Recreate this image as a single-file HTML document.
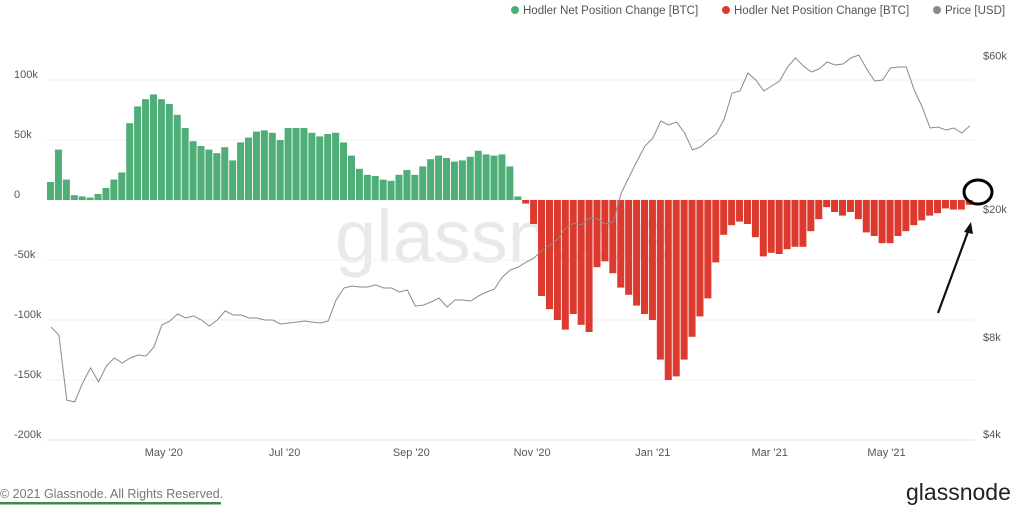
<!DOCTYPE html>
<html><head><meta charset="utf-8">
<style>
html,body{margin:0;padding:0;background:#fff;}
body{width:1024px;height:506px;overflow:hidden;position:relative;font-family:"Liberation Sans",sans-serif;}
svg{position:absolute;left:0;top:0;}
</style></head>
<body>
<svg id="chart" width="1024" height="506">
  <text x="335" y="262" font-size="74" fill="#e9e9e9" font-family="Liberation Sans, sans-serif">glassnode</text>
  <g id="grid"></g>
  <g id="yLeft"></g>
  <g id="yRight"></g>
  <g id="xAxis"></g>
  <g id="bars"></g>
  <path id="priceLine" fill="none" stroke="#8a8a8a" stroke-width="1"></path>
  <g>
    <g><circle cx="515" cy="10" r="4" fill="#4fae77"/><text x="523" y="14" font-size="11.5" fill="#555">Hodler Net Position Change [BTC]</text></g>
    <g><circle cx="726" cy="10" r="4" fill="#dd3a2f"/><text x="734" y="14" font-size="11.5" fill="#555">Hodler Net Position Change [BTC]</text></g>
    <g><circle cx="937" cy="10" r="4" fill="#8a8a8a"/><text x="945" y="14" font-size="11.5" fill="#555">Price [USD]</text></g>
  </g>
  <ellipse cx="978" cy="192" rx="14" ry="12" fill="none" stroke="#000" stroke-width="3"/>
  <g>
    <line x1="938" y1="313" x2="969" y2="229" stroke="#111" stroke-width="2.2"/>
    <polygon points="971,222 964,232 973,234" fill="#111"/>
  </g>
  <text x="0" y="498" font-size="12.5" fill="#777">© 2021 Glassnode. All Rights Reserved.</text>
  <rect x="0" y="502" width="221" height="2.5" fill="#3f8a4a"/>
  <text x="906" y="500" font-size="23" fill="#222">glassnode</text>
</svg>
<script>
const netValuesK = [15,42,17,4,3,2,5,10,17,23,64,78,84,88,84,80,71,60,49,45,42,39,44,33,48,52,57,58,56,50,60,60,60,56,53,55,56,48,37,26,21,20,17,16,21,25,21,28,34,37,35,32,33,36,41,38,37,38,28,3,-3,-20,-80,-91,-100,-108,-95,-104,-110,-56,-51,-61,-73,-79,-88,-95,-100,-133,-150,-147,-133,-114,-97,-82,-52,-29,-21,-18,-20,-31,-47,-44,-45,-41,-39,-39,-26,-16,-6,-10,-13,-10,-16,-27,-30,-36,-36,-30,-26,-21,-17,-13,-11,-7,-8,-8,-4];
const priceUSD = [8600,8120,5100,5030,5760,6420,5810,6510,6890,6650,6890,7040,6990,7450,8720,8980,9440,9170,9310,9040,8660,9040,9650,9370,9370,9170,9170,9040,9040,8790,8850,8910,8980,8910,8850,8980,10430,11370,11530,11450,11450,11620,11370,11370,11050,11210,9990,10060,10280,10580,9920,10430,10430,10360,10740,11050,11290,12300,12930,13210,13690,14090,14920,15460,16140,17460,18100,17840,18750,18620,17960,18230,22430,25140,28180,31390,33230,37530,36470,37260,34440,30500,31160,32760,34200,38060,45850,46520,52900,50300,46520,48200,49940,55220,58880,55620,53280,54420,57220,56020,56420,58880,60160,54420,49940,50300,54820,55220,55220,46840,41470,35700,35950,35180,35700,34440,36200];
const leftTicksK = [100,50,0,-50,-100,-150,-200];
const leftTickLabels = ["100k","50k","0","-50k","-100k","-150k","-200k"];
const rightTicks = [60000,20000,8000,4000];
const rightTickLabels = ["$60k","$20k","$8k","$4k"];
const monthDays = [59,120,184,245,306,365,424];
const monthLabels = ["May '20","Jul '20","Sep '20","Nov '20","Jan '21","Mar '21","May '21"];
const daysPerBar = 4;

const NS = "http://www.w3.org/2000/svg";
const X0 = 47, PXDAY = 1.98, X1 = 975;
function xDay(d){ return X0 + d*PXDAY; }
function yNet(k){ return 200 - k/50*60; }
function yPrice(p){ return 209 - Math.log10(p/20000)*322; }
function mk(tag, attrs, parent){ const e=document.createElementNS(NS,tag); for(const k in attrs) e.setAttribute(k,attrs[k]); parent.appendChild(e); return e; }

const grid=document.getElementById('grid'), yl=document.getElementById('yLeft'), yr=document.getElementById('yRight'), xa=document.getElementById('xAxis'), bars=document.getElementById('bars');
leftTicksK.forEach((v,i)=>{
  const g=mk('line',{x1:X0,x2:X1,y1:yNet(v),y2:yNet(v),stroke:i===leftTicksK.length-1?'#e2e2e2':'#f2f2f2','stroke-width':1},grid);
  
  
  const t=mk('text',{x:14,y:yNet(v)-2,'font-size':11,fill:'#555'},yl);
  t.textContent=leftTickLabels[i];
  
  
});
rightTicks.forEach((p,i)=>{
  const t=mk('text',{x:983,y:yPrice(p)+4,'font-size':11,fill:'#555'},yr);
  t.textContent=rightTickLabels[i];
  
  
});
monthDays.forEach((d,i)=>{
  const t=mk('text',{x:xDay(d),y:456,'font-size':11,fill:'#555','text-anchor':'middle'},xa);
  t.textContent=monthLabels[i];
  
  
});
const bw = daysPerBar*PXDAY;
netValuesK.forEach((v,i)=>{
  const x=xDay(i*daysPerBar), y0=yNet(0), y=yNet(v);
  const r=mk('rect',{x:x,y:Math.min(y,y0),width:bw-0.9,height:Math.max(Math.abs(y-y0),0.5),fill:v>=0?'#4fae77':'#dd3a2f'},bars);
  
  
});
let d='';
priceUSD.forEach((p,i)=>{ const x=xDay(i*daysPerBar+daysPerBar/2), y=yPrice(p); d+=(i?'L':'M')+x.toFixed(1)+' '+y.toFixed(1); });
document.getElementById('priceLine').setAttribute('d',d);
</script>
</body></html>
